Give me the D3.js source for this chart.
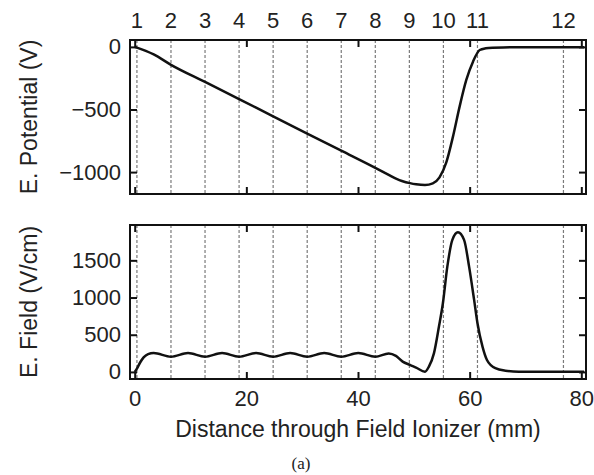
<!DOCTYPE html>
<html>
<head>
<meta charset="utf-8">
<script src="https://cdn.jsdelivr.net/npm/d3@7"></script>
<style>
  body { margin: 0; background: #fff; }
  text { font-family: "Liberation Sans", Arial, Helvetica, sans-serif; fill: #222; }
</style>
</head>
<body>
<div id="chart"></div>
<script>
const width = 594;
const height = 475;

// electrode positions (mm) and their labels
const electrodePos = [0.4, 6.5, 12.6, 18.7, 24.8, 30.9, 37.0, 43.1, 49.2, 55.3, 61.4, 76.8];
const electrodeLabels = ["1", "2", "3", "4", "5", "6", "7", "8", "9", "10", "11", "12"];

// electric potential (V) vs distance (mm)
const potX = [0, 3.4, 6.5, 12.6, 18.7, 24.8, 30.9, 37.0, 43.1, 45.5, 46.8, 48.0, 49.3, 50.4, 52.0, 53.4, 54.6, 55.8, 57.0, 58.2, 59.4, 60.6, 61.8, 62.9, 64.1, 66, 70, 80.5];
const potV = [0, -60, -143, -280, -417, -555, -692, -829, -966, -1022, -1052, -1073, -1088, -1097, -1103, -1090, -1042, -925, -719, -477, -264, -118, -25, -11, -6, -4, -3, -2];

// electric field magnitude (V/cm) vs distance (mm)
const fieldX = [0, 0.4, 1.0, 1.6, 2.4, 3.4, 6.5, 9.55, 12.6, 15.65, 18.7, 21.75, 24.8, 27.85, 30.9, 33.95, 37.0, 40.05, 43.1, 45.5, 46.8, 48.0, 49.3, 50.4, 52.0, 52.7, 53.6, 54.5, 55.2, 56.0, 56.9, 57.9, 59.0, 59.9, 60.8, 61.4, 62.3, 63.1, 64.6, 66.4, 68.8, 74, 80.5];
const fieldE = [0, 45, 130, 195, 240, 255, 205, 255, 205, 255, 205, 255, 205, 255, 205, 255, 205, 255, 205, 248, 215, 139, 94, 58, 4, 72, 250, 610, 920, 1415, 1775, 1877, 1775, 1415, 968, 655, 340, 161, 50, 17, 4, 2, 2];

// tick values
const xTicks = [0, 20, 40, 60, 80];
const potTicks = [0, -500, -1000];
const fieldTicks = [0, 500, 1000, 1500];

const left = 130, right = 586;
const top1 = 40, bottom1 = 194;
const top2 = 225, bottom2 = 379;

const svg = d3.select("#chart")
    .append("svg")
    .attr("width", width)
    .attr("height", height);

const x = d3.scaleLinear().domain([-0.84, 80.84]).range([left, right]);
const yPot = d3.scaleLinear().domain([-1175, 55]).range([bottom1, top1]);
const yField = d3.scaleLinear().domain([-95, 1975]).range([bottom2, top2]);
const fmt = d3.format("d");

function panel(y, yTicks, top, bottom, xs, ys, showXLabels) {
    const g = svg.append("g");

    // dashed electrode lines
    g.selectAll("line.electrode")
        .data(electrodePos)
        .enter()
        .append("line")
        .attr("x1", d => x(d))
        .attr("x2", d => x(d))
        .attr("y1", top)
        .attr("y2", bottom)
        .attr("stroke", "#7a7a7a")
        .attr("stroke-width", 1.2)
        .attr("stroke-dasharray", "3,2");

    // axes with inward ticks on all four sides
    const axes = [
        { ax: d3.axisLeft(y).tickValues(yTicks).tickFormat(fmt).tickPadding(9), t: `translate(${left},0)` },
        { ax: d3.axisRight(y).tickValues(yTicks).tickFormat(""), t: `translate(${right},0)` },
        { ax: d3.axisBottom(x).tickValues(xTicks).tickFormat(showXLabels ? fmt : "").tickPadding(11), t: `translate(0,${bottom})` },
        { ax: d3.axisTop(x).tickValues(xTicks).tickFormat(""), t: `translate(0,${top})` }
    ];
    axes.forEach(a => {
        const ga = g.append("g")
            .attr("transform", a.t)
            .call(a.ax.tickSize(-7));
        ga.select(".domain").remove();
        ga.selectAll(".tick line").attr("stroke", "#111").attr("stroke-width", 2);
        ga.selectAll(".tick text")
            .style("font-size", "22px")
            .attr("fill", "#222");
    });

    // data curve
    const line = d3.line()
        .x(d => x(d[0]))
        .y(d => y(d[1]))
        .curve(d3.curveMonotoneX);
    g.append("path")
        .datum(xs.map((v, i) => [v, ys[i]]))
        .attr("d", line)
        .attr("fill", "none")
        .attr("stroke", "#111")
        .attr("stroke-width", 2.5);

    // frame
    g.append("rect")
        .attr("x", left)
        .attr("y", top)
        .attr("width", right - left)
        .attr("height", bottom - top)
        .attr("fill", "none")
        .attr("stroke", "#111")
        .attr("stroke-width", 2);
}

panel(yPot, potTicks, top1, bottom1, potX, potV, false);
panel(yField, fieldTicks, top2, bottom2, fieldX, fieldE, true);

// electrode numbers above the top panel
svg.selectAll("text.enum")
    .data(electrodePos)
    .enter()
    .append("text")
    .attr("class", "enum")
    .attr("x", d => x(d))
    .attr("y", 28)
    .attr("text-anchor", "middle")
    .style("font-size", "22px")
    .text((d, i) => electrodeLabels[i]);

// axis titles
svg.append("text")
    .attr("transform", `translate(37,${(top1 + bottom1) / 2}) rotate(-90)`)
    .attr("text-anchor", "middle")
    .style("font-size", "23px")
    .text("E. Potential (V)");

svg.append("text")
    .attr("transform", `translate(37,${(top2 + bottom2) / 2}) rotate(-90)`)
    .attr("text-anchor", "middle")
    .style("font-size", "23px")
    .text("E. Field (V/cm)");

svg.append("text")
    .attr("x", (left + right) / 2)
    .attr("y", 437)
    .attr("text-anchor", "middle")
    .style("font-size", "23px")
    .text("Distance through Field Ionizer (mm)");

svg.append("text")
    .attr("x", 301)
    .attr("y", 469)
    .attr("text-anchor", "middle")
    .style("font-family", "'Liberation Serif', 'Times New Roman', serif")
    .style("font-size", "17px")
    .text("(a)");
</script>
</body>
</html>
